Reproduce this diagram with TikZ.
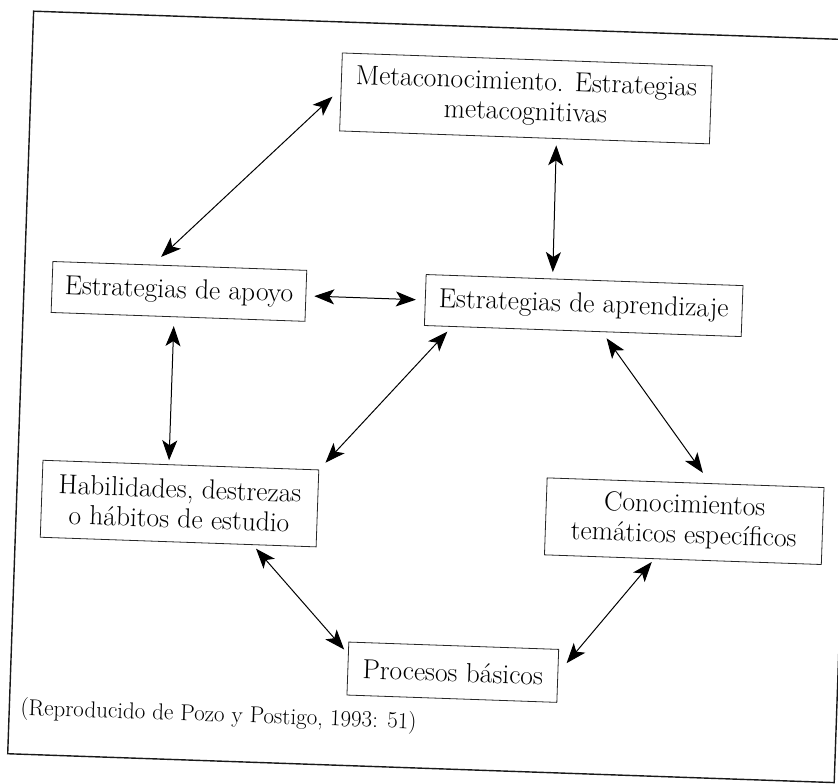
\documentclass[tikz,border=0pt]{standalone}
\usetikzlibrary{arrows.meta,calc}
\begin{document}
\begin{tikzpicture}[x=1pt,y=-1pt,
  box/.style={draw=black!85, line width=0.8pt, inner sep=0pt, align=center,
    font=\fontsize{27.5}{30}\selectfont},
  dbl/.style={{Stealth[length=20pt,width=15pt,inset=5pt]}-{Stealth[length=20pt,width=15pt,inset=5pt]},
    line width=1pt, black},
  framestyle/.style={line width=1.4pt, black!90}]
\useasboundingbox (0,0) rectangle (838,784);
\begin{scope}
\clip (0,0) rectangle (838,784);
\begin{scope}[rotate=-2, transform shape]
  % outer frame
  \draw[framestyle] (34,10) -- (861,10) -- (861,753) -- (34,753) -- cycle;
  % boxes
  \node[box, minimum width=370, minimum height=78] (meta) at (529,80)
    {Metaconocimiento. Estrategias\\metacognitivas};
  \node[box, minimum width=254, minimum height=51] (apoyo) at (189,285)
    {Estrategias de apoyo};
  \node[box, minimum width=317, minimum height=51] (apr) at (594,285)
    {Estrategias de aprendizaje};
  \node[box, minimum width=276, minimum height=77] (hab) at (197,497)
    {Habilidades, destrezas\\o hábitos de estudio};
  \node[box, minimum width=277, minimum height=77] (con) at (702,497)
    {Conocimientos\\temáticos específicos};
  \node[box, minimum width=210, minimum height=53] (proc) at (476,656)
    {Procesos básicos};
  \node[anchor=west, inner sep=0pt, font=\fontsize{23}{26}\selectfont] (cap) at (45,708)
    {(Reproducido de Pozo y Postigo, 1993: 51)};
  % connectors
  \draw[dbl] ($(meta.west)+(-8,5)$) -- ($(apoyo.north)+(-19,-8)$);
  \draw[dbl] ($(meta.south)+(32,6.5)$) -- ($(apr.north)+(-32,-6.5)$);
  \draw[dbl] ($(apoyo.east)+(8,0)$) -- ($(apr.west)+(-9,0)$);
  \draw[dbl] ($(apoyo.south)+(-4,9)$) -- ($(hab.north)+(-12,-4)$);
  \draw[dbl] ($(apr.south west)+(23.5,5)$) -- ($(hab.north east)+(6,-7)$);
  \draw[dbl] ($(apr.south)+(24,6)$) -- ($(con.north)+(17,-10)$);
  \draw[dbl] ($(hab.south)+(78,3.5)$) -- ($(proc.north west)+(-4,8)$);
  \draw[dbl] ($(con.south)+(-31,3)$) -- ($(proc.east)+(8,-13)$);
\end{scope}
\end{scope}
\end{tikzpicture}
\end{document}
